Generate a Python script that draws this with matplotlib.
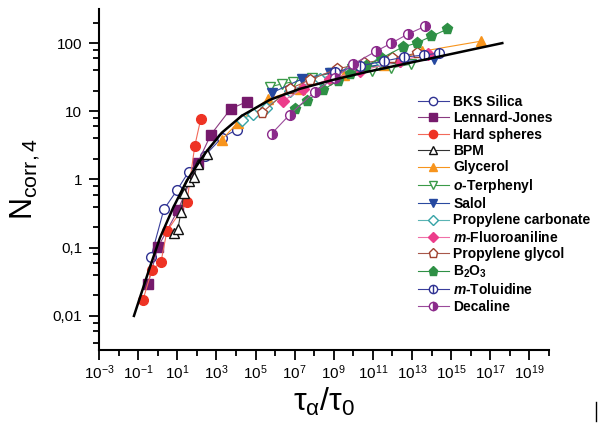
import matplotlib
matplotlib.use("Agg")
import matplotlib.pyplot as plt
from matplotlib.path import Path
from matplotlib.lines import Line2D
import matplotlib.ticker as mticker
import numpy as np

# ============================================================
# DANE
# ============================================================

fit_x = [0.0611, 0.400, 1.29, 5.97, 30.9, 256, 1890, 1.98e4, 5.3e5, 1.8e7,
         8.7e8, 4.7e10, 2.3e12, 1.1e14, 6.7e15, 4.1e17]
fit_y = [0.0100, 0.0519, 0.138, 0.378, 0.966, 2.40, 4.85, 8.59, 14.7, 21.3,
         28.8, 37.7, 47.8, 60.4, 77.8, 100]

bks_x = [0.45, 2.07, 9.5, 39, 257, 1890, 1.1e4]
bks_y = [0.0726, 0.365, 0.69, 1.31, 2.24, 4.1, 5.37]

lj_x = [0.316, 1.02, 10.7, 112, 518, 5430, 3.55e4]
lj_y = [0.0293, 0.1016, 0.352, 1.77, 4.54, 10.9, 13.8]

hs_x = [0.176, 0.506, 1.46, 2.94, 30.9, 79, 160]
hs_y = [0.0171, 0.047, 0.061, 0.174, 0.46, 3.13, 7.8]

bpm_x = [6.7, 10.7, 15.3, 21.7, 39, 70, 112, 324]
bpm_y = [0.163, 0.186, 0.33, 0.625, 0.935, 1.07, 1.71, 2.4]

gly_x = [1890, 1.23e4, 4.2e5, 1.8e7, 3.5e9, 3.9e11, 3.4e13, 3.5e16]
gly_y = [3.84, 6.8, 15.1, 21.4, 34, 47.7, 76, 107]

otp_x = [5.3e5, 2.2e6, 7.9e6, 7.4e7, 7.8e8, 8.2e9, 8.5e10, 8.9e11, 9.3e12]
otp_y = [22.8, 25.2, 27, 30.9, 36.6, 41.7, 39, 43.2, 49.4]

salol_x = [6.7e5, 2.3e7, 6.2e8, 3.7e10, 2.3e12, 1.4e14]
salol_y = [18.6, 29.8, 36.5, 44.6, 52.8, 58.4]

pc_x = [2e4, 7.3e4, 3.3e5, 5.5e6, 1.9e8, 6.5e9, 2.2e11]
pc_y = [7.5, 9.2, 11.3, 20, 29.8, 41.7, 54.6]

mfa_x = [2.5e6, 2.6e7, 6.2e8, 2.1e10, 2.3e12, 6.2e13]
mfa_y = [14.2, 21.3, 29.8, 39, 54.6, 69.2]

pg_x = [2.1e5, 5.5e6, 5.9e7, 1.4e9, 3.7e10, 1e12, 1.9e13]
pg_y = [9.5, 21.3, 28.9, 41.7, 51.1, 60.4, 71.4]

b2o3_x = [1e7, 4.1e7, 2.7e8, 1.6e9, 6.4e9, 4.2e10, 2.7e11, 3.3e12, 1.7e13, 9.8e13, 6.4e14]
b2o3_y = [10.9, 14.2, 20.6, 27.9, 35.2, 46.1, 60.2, 87.4, 100, 126, 160]

mtol_x = [1.1e9, 2.1e10, 3.9e11, 4.1e12, 4.3e13, 2.5e14]
mtol_y = [37.7, 46.1, 54.6, 62.5, 66.8, 71.4]

dec_x = [6.7e5, 5.5e6, 1.05e8, 1.1e9, 1e10, 1.5e11, 8.9e11, 5.9e12, 4.8e13]
dec_y = [4.7, 8.9, 19.3, 30.8, 49.3, 76.5, 100, 135, 177]

x_major = [10.0 ** e for e in range(-3, 20, 2)]
x_minor = [10.0 ** e for e in range(-2, 21, 2)]
x_labels = [rf"$10^{{{e}}}$" for e in range(-3, 20, 2)]
y_major = [0.01, 0.1, 1, 10, 100]
y_labels = ["0,01", "0,1", "1", "10", "100"]

# ============================================================
# STYL
# ============================================================

plt.rcParams["font.family"] = ["Liberation Sans", "DejaVu Sans"]
plt.rcParams["mathtext.fontset"] = "custom"
plt.rcParams["mathtext.rm"] = "Liberation Sans"
plt.rcParams["mathtext.it"] = "Liberation Sans:italic"
plt.rcParams["mathtext.bf"] = "Liberation Sans:bold"
plt.rcParams["mathtext.bfit"] = "Liberation Sans:italic:bold"

circ = Path.unit_circle()
vline = Path([[0, -1], [0, 1]], [Path.MOVETO, Path.LINETO])
tol_marker = Path.make_compound_path(circ, vline)

MS = 7
LW = 0.8

# (x, y, etykieta, kolor linii, kolor markera, marker, wypelnienie)
series = [
    (bks_x, bks_y, "BKS Silica", "#3a3f9c", "#2e3192", "o", "white"),
    (lj_x, lj_y, "Lennard-Jones", "#8a3a80", "#761a6c", "s", None),
    (hs_x, hs_y, "Hard spheres", "#f26a5a", "#ee3324", "o", None),
    (bpm_x, bpm_y, "BPM", "#333333", "#111111", "^", "white"),
    (gly_x, gly_y, "Glycerol", "#f7941d", "#f7941d", "^", None),
    (otp_x, otp_y, "$\\mathbfit{o}$-Terphenyl", "#3a9a48", "#3a9a48", "v", "white"),
    (salol_x, salol_y, "Salol", "#2a4aa0", "#2548a0", "v", None),
    (pc_x, pc_y, "Propylene carbonate", "#5ab4b4", "#36a3a6", "D", "white"),
    (mfa_x, mfa_y, "$\\mathbfit{m}$-Fluoroaniline", "#f070a8", "#ec3d8b", "D", None),
    (pg_x, pg_y, "Propylene glycol", "#a8584a", "#a0412e", "p", "white"),
    (b2o3_x, b2o3_y, "B$_\\mathbf{2}$O$_\\mathbf{3}$", "#2e9045", "#2e9045", "p", None),
    (mtol_x, mtol_y, "$\\mathbfit{m}$-Toluidine", "#3a3f9c", "#2e3192", tol_marker, "white"),
    (dec_x, dec_y, "Decaline", "#9a4a9a", "#8b2a8b", "o", "half"),
]

fig = plt.figure(figsize=(5.98, 4.23), dpi=100)
ax = fig.add_axes([99 / 598, 1 - 350 / 423, 450 / 598, 341 / 423])

handles = []
for x, y, lab, lc, mc, mk, fill in series:
    kw = dict(color=lc, lw=LW, marker=mk, ms=MS, markeredgecolor=mc,
              markeredgewidth=1.0, label=lab)
    if fill == "white":
        kw["markerfacecolor"] = "white"
    elif fill == "half":
        kw["markerfacecolor"] = mc
        kw["markerfacecoloralt"] = "white"
        kw["fillstyle"] = "right"
    else:
        kw["markerfacecolor"] = mc
    if mk == "p":
        kw["ms"] = MS + 1
    if mk == "D":
        kw["ms"] = MS - 1
    h, = ax.plot(x, y, **kw)
    handles.append(h)

ax.plot(fit_x, fit_y, color="black", lw=1.8, zorder=5)

ax.set_xscale("log")
ax.set_yscale("log")
ax.set_xlim(1e-3, 1e20)
ax.set_ylim(10 ** -2.5, 10 ** 2.5)

ax.xaxis.set_major_locator(mticker.FixedLocator(x_major))
ax.xaxis.set_major_formatter(mticker.FixedFormatter(x_labels))
ax.xaxis.set_minor_locator(mticker.FixedLocator(x_minor))
ax.xaxis.set_minor_formatter(mticker.NullFormatter())

ax.yaxis.set_major_locator(mticker.FixedLocator(y_major))
ax.yaxis.set_major_formatter(mticker.FixedFormatter(y_labels))
ax.yaxis.set_minor_locator(mticker.LogLocator(base=10, subs=[2, 4, 6, 8], numticks=20))
ax.yaxis.set_minor_formatter(mticker.NullFormatter())

for s in ["top", "right"]:
    ax.spines[s].set_visible(False)
for s in ["left", "bottom"]:
    ax.spines[s].set_linewidth(1.5)

ax.tick_params(which="major", direction="out", length=7, width=1.3, labelsize=11,
               colors="black", pad=5)
ax.tick_params(which="minor", direction="out", length=4, width=1.3)
ax.tick_params(axis="x", which="major", pad=3)

ax.set_xlabel(r"$\mathrm{\tau}_{\mathrm{\alpha}}/\mathrm{\tau}_0$", fontsize=23)
ax.xaxis.set_label_coords(0.5, -0.105)
ax.set_ylabel(r"N$_\mathregular{corr,4}$", fontsize=22, labelpad=8)

leg = ax.legend(handles=handles, loc="upper left", bbox_to_anchor=(0.709, 0.748),
                frameon=False, borderpad=0, borderaxespad=0,
                handlelength=2.2, handletextpad=0.35, labelspacing=0.17,
                prop={"weight": "bold", "size": 10}, markerscale=0.85)

# kreska przy prawej krawedzi
fig.add_artist(Line2D([596 / 598, 596 / 598], [1 - 402 / 423, 1 - 421 / 423],
                      color="black", lw=1))

fig.savefig("out.png", dpi=100)
